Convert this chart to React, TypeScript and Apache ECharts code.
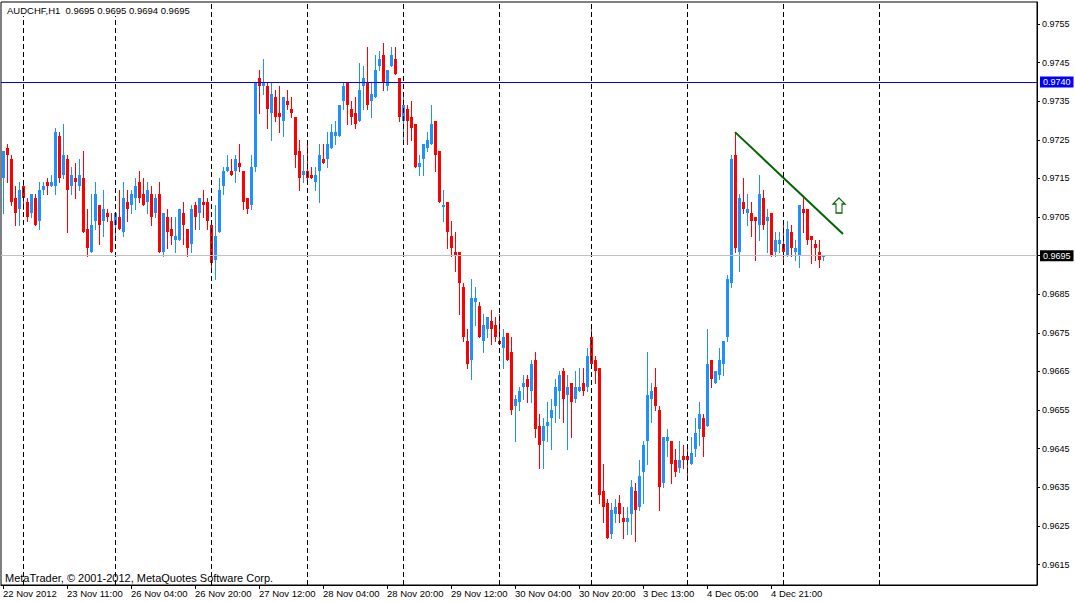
import React, { useEffect, useRef } from "react";
import * as echarts from "echarts";

const FONT = "'Liberation Sans', Arial, sans-serif";

const opens = [
  0.9715, 0.9723, 0.9720, 0.9710, 0.9707, 0.9713, 0.9709, 0.9706, 0.9710, 0.9704,
  0.9712, 0.9714, 0.9713, 0.9713, 0.9726, 0.9716, 0.9720, 0.9713, 0.9715, 0.9713,
  0.9715, 0.9702, 0.9696, 0.9704, 0.9708, 0.9704, 0.9706, 0.9704, 0.9703, 0.9705,
  0.9701, 0.9709, 0.9708, 0.9710, 0.9714, 0.9711, 0.9709, 0.9711, 0.9706, 0.9711,
  0.9696, 0.9705, 0.9702, 0.9699, 0.9699, 0.9706, 0.9702, 0.9698, 0.9708, 0.9706,
  0.9709, 0.9709, 0.9703, 0.9694, 0.9701, 0.9713, 0.9717, 0.9717, 0.9717, 0.9719,
  0.9717, 0.9710, 0.9708, 0.9718, 0.9741, 0.9739, 0.9739, 0.9732, 0.9736, 0.9732,
  0.9730, 0.9735, 0.9733, 0.9731, 0.9722, 0.9716, 0.9717, 0.9716, 0.9714, 0.9717,
  0.9720, 0.9720, 0.9723, 0.9726, 0.9726, 0.9735, 0.9740, 0.9733, 0.9732, 0.9730,
  0.9739, 0.9740, 0.9735, 0.9736, 0.9744, 0.9747, 0.9739, 0.9744, 0.9746, 0.9741,
  0.9730, 0.9733, 0.9731, 0.9729, 0.9718, 0.9720, 0.9723, 0.9724, 0.9730, 0.9722,
  0.97075, 0.9709, 0.9700, 0.9696, 0.9696, 0.9687, 0.9673, 0.9668, 0.9683, 0.9682,
  0.9673, 0.9676, 0.9678, 0.9677, 0.9673, 0.9671, 0.9675, 0.9670, 0.9656, 0.9657,
  0.9661, 0.9663, 0.9660, 0.9668, 0.9651, 0.9647, 0.9651, 0.9653, 0.9656, 0.9660,
  0.9665, 0.9659, 0.9662, 0.9658, 0.9660, 0.9662, 0.9661, 0.9674, 0.9668, 0.9666,
  0.9634, 0.9631, 0.9623, 0.9628, 0.9631, 0.9627, 0.9626, 0.9628, 0.9634, 0.9630,
  0.9639, 0.9647, 0.9658, 0.9661, 0.9655, 0.9636, 0.9647, 0.9647, 0.9642, 0.9640,
  0.9643, 0.9643, 0.9641, 0.9645, 0.9650, 0.9653, 0.9651, 0.9668, 0.9662, 0.9664,
  0.9667, 0.9674, 0.9688, 0.9721, 0.9696, 0.9709, 0.9706, 0.9706, 0.9705, 0.9703,
  0.9710, 0.9704, 0.9706, 0.9696, 0.9698, 0.9698, 0.9695, 0.9701, 0.9696, 0.9695,
  0.9707, 0.9707, 0.9700, 0.9698, 0.9696, 0.9695,
];

const highs = [
  0.9722, 0.9724, 0.9721, 0.9713, 0.9714, 0.9714, 0.9710, 0.9711, 0.9711, 0.9714,
  0.9714, 0.9715, 0.9716, 0.9728, 0.9727, 0.9729, 0.9721, 0.9718, 0.9719, 0.9720,
  0.9722, 0.9707, 0.9711, 0.9714, 0.9708, 0.9712, 0.9707, 0.9706, 0.9706, 0.9712,
  0.9714, 0.9712, 0.9712, 0.9715, 0.9717, 0.9715, 0.9714, 0.9713, 0.9711, 0.9714,
  0.9706, 0.9707, 0.9705, 0.9705, 0.9707, 0.9709, 0.9702, 0.9708, 0.9709, 0.9710,
  0.9712, 0.9710, 0.9704, 0.9708, 0.9715, 0.9718, 0.9721, 0.9720, 0.9721, 0.9724,
  0.9717, 0.9710, 0.9721, 0.9740, 0.9743, 0.9746, 0.9740, 0.9740, 0.9738, 0.9739,
  0.9736, 0.9738, 0.9736, 0.9731, 0.9725, 0.9721, 0.9724, 0.9718, 0.9718, 0.9724,
  0.9724, 0.9727, 0.9729, 0.9730, 0.9734, 0.9740, 0.9740, 0.9735, 0.9736, 0.9745,
  0.9744, 0.9749, 0.9740, 0.9747, 0.9748, 0.9750, 0.9743, 0.9749, 0.9749, 0.9741,
  0.9736, 0.9734, 0.9735, 0.9729, 0.9721, 0.9724, 0.9727, 0.9734, 0.9730, 0.9722,
  0.9712, 0.9709, 0.9704, 0.9701, 0.9696, 0.9688, 0.9676, 0.9689, 0.9687, 0.9683,
  0.9680, 0.9679, 0.9681, 0.9679, 0.9680, 0.9676, 0.9675, 0.9674, 0.9659, 0.9661,
  0.9664, 0.9664, 0.9668, 0.9670, 0.9654, 0.9653, 0.9657, 0.9658, 0.9663, 0.9665,
  0.9666, 0.9664, 0.9662, 0.9665, 0.9666, 0.9666, 0.9671, 0.9676, 0.9669, 0.9666,
  0.9641, 0.9632, 0.9631, 0.9632, 0.9633, 0.9630, 0.9630, 0.9637, 0.9636, 0.9642,
  0.9647, 0.9670, 0.9662, 0.9666, 0.9656, 0.9648, 0.9650, 0.9647, 0.9645, 0.9647,
  0.9646, 0.9645, 0.9648, 0.9653, 0.9657, 0.9654, 0.9676, 0.9668, 0.9665, 0.9671,
  0.9673, 0.9690, 0.9721, 0.9727, 0.9711, 0.9715, 0.9711, 0.9709, 0.9705, 0.9716,
  0.9712, 0.9707, 0.9706, 0.9701, 0.9701, 0.9703, 0.9704, 0.9703, 0.9699, 0.9708,
  0.9710, 0.9707, 0.9700, 0.9699, 0.9699, 0.9695,
];

const lows = [
  0.9706, 0.9714, 0.9708, 0.9703, 0.9703, 0.9707, 0.9704, 0.9705, 0.9703, 0.9702,
  0.9711, 0.9711, 0.9713, 0.9711, 0.9714, 0.9715, 0.9701, 0.9711, 0.9710, 0.9712,
  0.9701, 0.9695, 0.9696, 0.9702, 0.9698, 0.9700, 0.9704, 0.9696, 0.9700, 0.9702,
  0.9700, 0.9704, 0.9706, 0.9707, 0.9709, 0.9708, 0.9706, 0.9703, 0.9705, 0.9696,
  0.9695, 0.9697, 0.9698, 0.9696, 0.9699, 0.9698, 0.9695, 0.9696, 0.9702, 0.9702,
  0.9705, 0.9702, 0.9691, 0.9689, 0.9701, 0.9711, 0.9717, 0.9716, 0.9714, 0.9717,
  0.9707, 0.9706, 0.9707, 0.9717, 0.9732, 0.9737, 0.9728, 0.9725, 0.9730, 0.9727,
  0.9726, 0.9733, 0.9731, 0.9718, 0.9712, 0.9714, 0.9714, 0.9715, 0.9712, 0.9709,
  0.9719, 0.9718, 0.9723, 0.9724, 0.9726, 0.9733, 0.9729, 0.9729, 0.9728, 0.9730,
  0.9733, 0.9733, 0.9731, 0.9736, 0.9743, 0.9738, 0.9738, 0.9744, 0.9742, 0.9730,
  0.9724, 0.9724, 0.9725, 0.9718, 0.9716, 0.9716, 0.9722, 0.9724, 0.9717, 0.9709,
  0.9704, 0.9697, 0.9695, 0.9691, 0.9680, 0.9673, 0.9666, 0.9663, 0.9677, 0.9674,
  0.9670, 0.9674, 0.9672, 0.9673, 0.9672, 0.9666, 0.9668, 0.9654, 0.9647, 0.9655,
  0.9658, 0.9657, 0.9657, 0.9648, 0.9640, 0.9640, 0.9647, 0.9645, 0.9652, 0.9653,
  0.9652, 0.9645, 0.9648, 0.9657, 0.9660, 0.9659, 0.9660, 0.9666, 0.9662, 0.9631,
  0.9626, 0.9622, 0.9622, 0.9626, 0.9626, 0.9622, 0.9623, 0.9623, 0.9621, 0.9629,
  0.9631, 0.9641, 0.9652, 0.9655, 0.9629, 0.9635, 0.9643, 0.9636, 0.9638, 0.9639,
  0.9640, 0.9637, 0.9641, 0.9643, 0.9646, 0.9643, 0.9651, 0.9661, 0.9662, 0.9663,
  0.9664, 0.9673, 0.9687, 0.9696, 0.9691, 0.9706, 0.9703, 0.9700, 0.9694, 0.9699,
  0.9702, 0.9696, 0.9695, 0.9695, 0.9696, 0.9694, 0.9695, 0.9695, 0.9694, 0.9692,
  0.9701, 0.9698, 0.9693, 0.9694, 0.9692, 0.9694,
];

const closes = [
  0.9722, 0.9721, 0.9709, 0.9706, 0.9712, 0.9710, 0.9705, 0.9711, 0.9703, 0.9712,
  0.9713, 0.9713, 0.9714, 0.9727, 0.9715, 0.9721, 0.9712, 0.9716, 0.9714, 0.9716,
  0.9701, 0.9697, 0.9703, 0.9711, 0.9703, 0.9707, 0.9705, 0.9696, 0.9706, 0.9702,
  0.9710, 0.9707, 0.9711, 0.9713, 0.9710, 0.9708, 0.9712, 0.9705, 0.9710, 0.9696,
  0.9706, 0.9701, 0.9700, 0.9700, 0.9707, 0.9703, 0.9697, 0.9707, 0.9705, 0.9710,
  0.9708, 0.9704, 0.9693, 0.9700, 0.9712, 0.9717, 0.9718, 0.9716, 0.9720, 0.9718,
  0.9709, 0.9707, 0.9718, 0.9740, 0.9739, 0.9740, 0.9733, 0.9737, 0.9731, 0.9731,
  0.9736, 0.9734, 0.9732, 0.9721, 0.9715, 0.9717, 0.9715, 0.9715, 0.9716, 0.9721,
  0.9719, 0.9724, 0.9727, 0.9727, 0.9734, 0.9739, 0.9734, 0.9731, 0.9729, 0.9738,
  0.9741, 0.9734, 0.9737, 0.9743, 0.9746, 0.9740, 0.9743, 0.9747, 0.9742, 0.9731,
  0.9734, 0.9730, 0.9728, 0.9718, 0.9719, 0.9724, 0.9725, 0.9729, 0.9721, 0.9709,
  0.9708, 0.9701, 0.9697, 0.9695, 0.9688, 0.9674, 0.9667, 0.9684, 0.9684, 0.9674,
  0.9677, 0.9679, 0.9676, 0.9674, 0.9672, 0.9674, 0.9668, 0.9655, 0.9658, 0.9660,
  0.9662, 0.9661, 0.9667, 0.9650, 0.9646, 0.9651, 0.9652, 0.9655, 0.9661, 0.9664,
  0.9658, 0.9661, 0.9657, 0.9661, 0.9661, 0.9660, 0.9669, 0.9667, 0.9665, 0.9633,
  0.9630, 0.9622, 0.9629, 0.9630, 0.9628, 0.9626, 0.9627, 0.9635, 0.9629, 0.9638,
  0.9646, 0.9659, 0.9660, 0.9656, 0.9635, 0.9648, 0.9648, 0.9641, 0.9639, 0.9642,
  0.9642, 0.9642, 0.9644, 0.9649, 0.9654, 0.9648, 0.9667, 0.9663, 0.9665, 0.9668,
  0.9673, 0.9689, 0.9720, 0.9697, 0.9710, 0.9707, 0.9707, 0.9704, 0.9704, 0.9711,
  0.9703, 0.9705, 0.9695, 0.9699, 0.9699, 0.9696, 0.9702, 0.9697, 0.9697, 0.9708,
  0.9706, 0.9699, 0.9699, 0.9697, 0.9694, 0.9695,
];

// bar slots on the time axis (data + empty future space on the right)
const slotCount = 259;
const tickIndex = [0, 16, 32, 48, 64, 80, 96, 112, 128, 144, 160, 176, 192];
const tickLabels = [
  "22 Nov 2012", "23 Nov 11:00", "26 Nov 04:00", "26 Nov 20:00", "27 Nov 12:00",
  "28 Nov 04:00", "28 Nov 20:00", "29 Nov 12:00", "30 Nov 04:00", "30 Nov 20:00",
  "3 Dec 13:00", "4 Dec 05:00", "4 Dec 21:00",
];
const daySeparators = [5, 28, 52, 76, 100, 124, 147, 171, 195, 219];
const priceTicks = [
  0.9615, 0.9625, 0.9635, 0.9645, 0.9655, 0.9665, 0.9675, 0.9685,
  0.9695, 0.9705, 0.9715, 0.9725, 0.9735, 0.9745, 0.9755,
];
const resistanceLevel = 0.974;
const bidLevel = 0.9695;
const trendStart = [183, 0.9727];
const trendEnd = [210, 0.97006];
const arrowPoint = [209, 0.9708];
const titleText = "AUDCHF,H1  0.9695 0.9695 0.9694 0.9695";
const copyrightText = "MetaTrader, \u00A9 2001-2012, MetaQuotes Software Corp.";

const BULL = "#1E90FF";
const BEAR = "#FF0000";

export default function App() {
  const ref = useRef<HTMLDivElement>(null);

  useEffect(() => {
    if (!ref.current) return;
    const chart = echarts.init(ref.current, undefined, { renderer: "svg" });

    const categories = Array.from({ length: slotCount }, (_, i) => String(i));
    const labelMap: Record<number, string> = {};
    tickIndex.forEach((idx, k) => (labelMap[idx] = tickLabels[k]));
    const isTick = (index: number) => labelMap[index] !== undefined;

    const data = opens.map((o, i) => [i, o, closes[i], lows[i], highs[i]]);

    const labelBox = (text: string, bg: string) => ({
      show: true,
      position: "end",
      distance: 3,
      formatter: () => text,
      backgroundColor: bg,
      color: "#fff",
      padding: [1, 3, 0, 3],
      fontSize: 9,
      lineHeight: 10,
      fontFamily: FONT,
    });

    const renderItem = (_params: any, api: any) => {
      const idx = api.value(0);
      const o = api.value(1);
      const c = api.value(2);
      const l = api.value(3);
      const h = api.value(4);
      const pO = api.coord([idx, o]);
      const pC = api.coord([idx, c]);
      const pL = api.coord([idx, l]);
      const pH = api.coord([idx, h]);
      const cx = Math.round(pO[0]);
      const color = c >= o ? BULL : BEAR;
      const top = Math.round(Math.min(pO[1], pC[1]));
      const bot = Math.round(Math.max(pO[1], pC[1]));
      const hgt = Math.max(1, bot - top);
      return {
        type: "group",
        children: [
          {
            type: "line",
            shape: { x1: cx + 0.5, y1: Math.round(pH[1]), x2: cx + 0.5, y2: Math.round(pL[1]) + 1 },
            style: { stroke: color, lineWidth: 1 },
          },
          {
            type: "rect",
            shape: { x: cx - 1, y: top, width: 3, height: hgt },
            style: { fill: color },
          },
        ],
      };
    };

    const option: any = {
      animation: false,
      backgroundColor: "#fff",
      title: {
        text: titleText,
        left: 5,
        top: 4,
        padding: [1, 2],
        backgroundColor: "#fff",
        z: 10,
        textStyle: { fontSize: 9.5, fontWeight: "normal", color: "#000", fontFamily: FONT },
      },
      grid: {
        left: 1,
        right: 38,
        top: 2,
        bottom: 17,
        show: true,
        borderColor: "#000",
        borderWidth: 1,
        backgroundColor: "#fff",
      },
      xAxis: {
        type: "category",
        data: categories,
        boundaryGap: true,
        axisLine: { show: true, lineStyle: { color: "#000", width: 1 } },
        axisTick: {
          show: true,
          alignWithLabel: true,
          interval: (index: number) => isTick(index),
          length: 4,
          lineStyle: { color: "#000" },
        },
        axisLabel: {
          show: true,
          interval: (index: number) => isTick(index),
          formatter: (_v: string, index: number) => labelMap[index] ?? "",
          align: "left",
          margin: 3,
          fontSize: 9.5,
          color: "#000",
          fontFamily: FONT,
        },
        splitLine: { show: false },
      },
      yAxis: {
        type: "value",
        position: "right",
        min: 0.96097,
        max: 0.97607,
        scale: true,
        axisLine: { show: true, lineStyle: { color: "#000", width: 1 } },
        axisTick: {
          show: true,
          length: 3,
          customValues: priceTicks,
          lineStyle: { color: "#000" },
        },
        axisLabel: {
          show: true,
          customValues: priceTicks,
          formatter: (v: number) => v.toFixed(4),
          margin: 5,
          fontSize: 9,
          color: "#000",
          fontFamily: FONT,
        },
        splitLine: { show: false },
      },
      graphic: [
        {
          type: "text",
          left: 5,
          top: 572,
          z: 10,
          style: { text: copyrightText, fontSize: 11, fill: "#000", fontFamily: FONT },
        },
      ],
      series: [
        {
          type: "line",
          data: [],
          silent: true,
          symbol: "none",
          z: 1,
          markLine: {
            silent: true,
            precision: 6,
            symbol: ["none", "none"],
            animation: false,
            data: [
              ...daySeparators.map((idx) => ({
                xAxis: idx,
                lineStyle: { color: "#000", width: 1, type: [5, 3] },
                label: { show: false },
              })),
              {
                yAxis: bidLevel,
                lineStyle: { color: "#C0C0C0", width: 1, type: "solid" },
                label: labelBox(bidLevel.toFixed(4), "#000"),
              },
            ],
          },
        },
        {
          type: "custom",
          renderItem,
          data,
          encode: { x: 0, y: [1, 2, 3, 4] },
          z: 2,
        },
        {
          type: "line",
          data: [],
          silent: true,
          symbol: "none",
          z: 3,
          markLine: {
            silent: true,
            precision: 6,
            symbol: ["none", "none"],
            animation: false,
            data: [
              {
                yAxis: resistanceLevel,
                lineStyle: { color: "#0000FF", width: 1, type: "solid" },
                label: labelBox(resistanceLevel.toFixed(4), "#0000FF"),
              },
              [
                {
                  coord: trendStart,
                  lineStyle: { color: "#006400", width: 2, type: "solid" },
                  label: { show: false },
                },
                { coord: trendEnd },
              ],
            ],
          },
          markPoint: {
            silent: true,
            animation: false,
            data: [
              {
                coord: arrowPoint,
                symbol: "path://M6,0 L12,6 L9,6 L9,15 L3,15 L3,6 L0,6 Z",
                symbolSize: [12, 15],
                itemStyle: { color: "#fff", borderColor: "#006400", borderWidth: 1.2 },
                label: { show: false },
              },
            ],
          },
        },
      ],
    };

    chart.setOption(option);
    return () => chart.dispose();
  }, []);

  return (
    <div
      ref={ref}
      style={{ position: "fixed", left: 0, top: 0, width: 1075, height: 602, background: "#fff" }}
    />
  );
}
